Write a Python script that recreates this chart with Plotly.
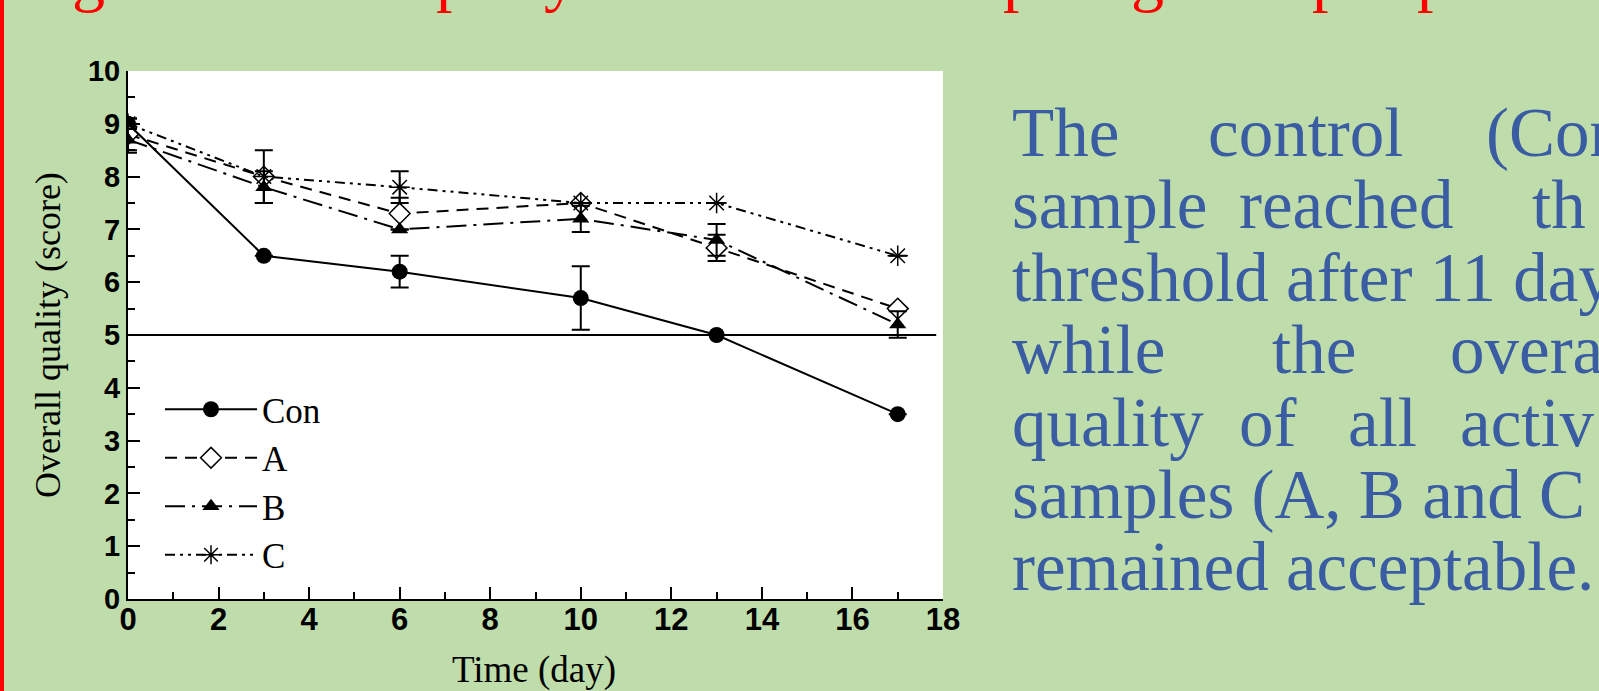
import plotly.graph_objects as go

# ---------------- data ----------------
days = [0, 3, 6, 10, 13, 17]
con = [9.0, 6.5, 6.2, 5.7, 5.0, 3.5]
con_err = [None, None, 0.3, 0.6, None, None]
a_vals = [8.8, 8.0, 7.3, 7.5, 6.65, 5.5]
a_err = [0.3, None, 0.3, None, 0.25, None]
b_vals = [8.7, 7.8, 7.0, 7.2, 6.8, 5.2]
b_err = [0.25, 0.3, None, 0.25, 0.3, 0.25]
c_vals = [9.0, 8.0, 7.8, 7.5, 7.5, 6.5]
c_err = [0.1, 0.5, 0.3, None, None, None]
threshold_x = [0, 17.85]
threshold_y = [5, 5]
x_ticks = [0, 2, 4, 6, 8, 10, 12, 14, 16, 18]
y_ticks = [0, 1, 2, 3, 4, 5, 6, 7, 8, 9, 10]

# ---------------- geometry ----------------
W, H = 1599, 691
L, R, T, B = 128, 656, 71, 92
PW, PH = W - L - R, H - T - B

def px(xp):
    return (xp - L) / PW

def py(yp):
    return (H - B - yp) / PH

GREEN = "#BFDCAB"
BLUE = "#3A5CA2"
SERIF = "Liberation Serif"
SANS = "Liberation Sans"

fig = go.Figure()

fig.add_trace(go.Scatter(x=threshold_x, y=threshold_y, mode="lines",
                         line=dict(color="black", width=2), showlegend=False, hoverinfo="skip"))

def err(v):
    return dict(type="data", array=v, visible=True, color="black", thickness=2, width=9)

fig.add_trace(go.Scatter(x=days, y=con, name="Con", mode="lines+markers",
                         line=dict(color="black", width=2),
                         marker=dict(symbol="circle", size=16, color="black"),
                         error_y=err(con_err)))
fig.add_trace(go.Scatter(x=days, y=a_vals, name="A", mode="lines+markers",
                         line=dict(color="black", width=2, dash="12px,8px"),
                         marker=dict(symbol="diamond", size=16, color="white",
                                     line=dict(color="black", width=1.5)),
                         error_y=err(a_err)))
fig.add_trace(go.Scatter(x=days, y=b_vals, name="B", mode="lines+markers",
                         line=dict(color="black", width=2, dash="20px,7px,3px,7px"),
                         marker=dict(symbol="triangle-up", size=15, color="black"),
                         error_y=err(b_err)))
fig.add_trace(go.Scatter(x=days, y=c_vals, name="C", mode="lines+markers",
                         line=dict(color="black", width=2, dash="10px,5px,3px,5px,3px,5px"),
                         marker=dict(symbol="asterisk-open", size=17, color="black",
                                     line=dict(color="black", width=1.5)),
                         error_y=err(c_err)))

axis_common = dict(showline=True, linecolor="black", linewidth=2, showgrid=False,
                   zeroline=False, ticks="inside", ticklen=12, tickwidth=2, tickcolor="black",
                   mirror=False, fixedrange=True)

fig.update_xaxes(range=[0, 18], tickvals=x_ticks, **axis_common, ticklabelstandoff=-8,
                 tickfont=dict(family=SANS, size=31, color="black", weight="bold"),
                 minor=dict(ticks="inside", ticklen=7, tickwidth=2, tickcolor="black", dtick=1, showgrid=False))
fig.update_yaxes(range=[0, 10], tickvals=y_ticks, **axis_common,
                 tickfont=dict(family=SANS, size=29, color="black", weight="bold"),
                 minor=dict(ticks="inside", ticklen=7, tickwidth=2, tickcolor="black", dtick=0.5, showgrid=False))

annotations = []
# axis titles
annotations.append(dict(text="Time (day)", xref="paper", yref="paper", x=px(534), y=py(670),
                        xanchor="center", yanchor="middle", showarrow=False,
                        font=dict(family=SERIF, size=37, color="black")))
annotations.append(dict(text="Overall quality (score)", xref="paper", yref="paper", x=px(48), y=py(335),
                        xanchor="center", yanchor="middle", textangle=-90, showarrow=False,
                        font=dict(family=SERIF, size=36, color="black")))

# right-side paragraph (justified, cut at the slide edge)
lines = [
    [("The", 1010), ("control", 1206), ("(Con", 1484)],
    [("sample", 1010), ("reached", 1237), ("th", 1530)],
    [("threshold after 11 day", 1010)],
    [("while", 1010), ("the", 1270), ("overa", 1448)],
    [("quality", 1010), ("of", 1237), ("all", 1346), ("activ", 1458)],
    [("samples (A, B and C", 1010)],
    [("remained acceptable.", 1010)],
]
centers = [133, 205, 278, 350, 423, 495, 567]
for words, cy in zip(lines, centers):
    for w, xw in words:
        annotations.append(dict(text=w, xref="paper", yref="paper", x=px(xw), y=py(cy),
                                xanchor="left", yanchor="middle", showarrow=False,
                                font=dict(family=SERIF, size=69, color=BLUE)))

# red heading, mostly cut off by the top edge (only descenders visible)
red_bits = [("g", 88), ("p", 452), ("y", 560), ("p", 1020), ("g", 1147), ("p", 1328), ("p", 1433)]
for ch, xc in red_bits:
    annotations.append(dict(text=ch, xref="paper", yref="paper", x=px(xc), y=py(-24),
                            xanchor="center", yanchor="middle", showarrow=False,
                            font=dict(family=SERIF, size=66, color="#FF0000")))

shapes = [dict(type="rect", xref="paper", yref="paper", x0=px(0), x1=px(4), y0=py(-5), y1=py(H + 5),
               fillcolor="#FF0000", line=dict(width=0), layer="above")]

fig.update_layout(
    width=W, height=H, autosize=False,
    margin=dict(l=L, r=R, t=T, b=B, pad=0),
    paper_bgcolor=GREEN, plot_bgcolor="white",
    showlegend=True,
    legend=dict(x=px(160), y=py(380), xanchor="left", yanchor="top",
                bgcolor="rgba(0,0,0,0)", font=dict(family=SERIF, size=35, color="black"),
                itemwidth=92, tracegroupgap=0),
    annotations=annotations, shapes=shapes,
)

fig.write_html("out.html", config={"displayModeBar": False, "staticPlot": True},
               post_script="document.body.style.margin='0';document.body.style.overflow='hidden';")
